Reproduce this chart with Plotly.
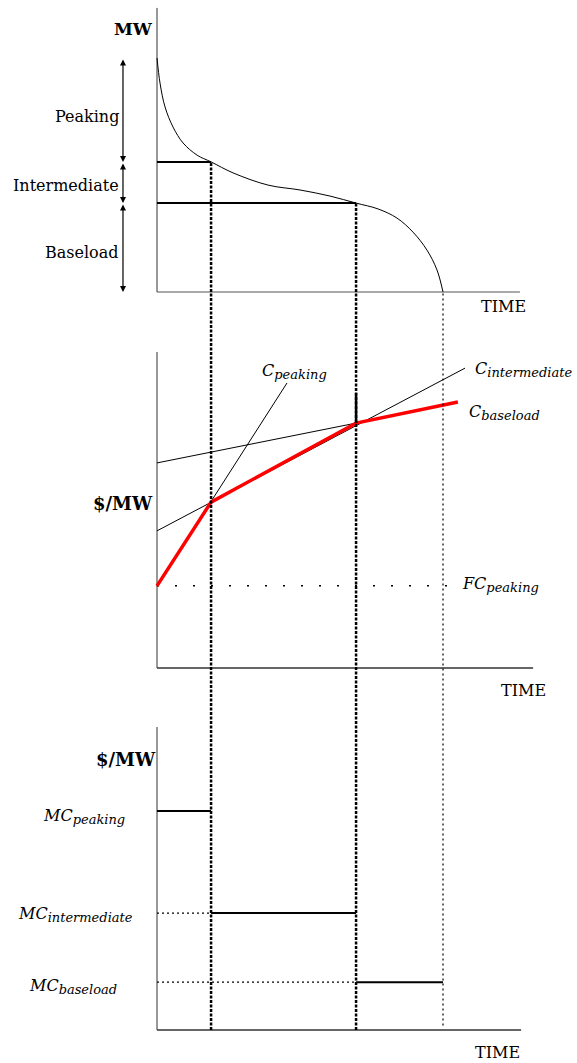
import plotly.graph_objects as go

# ---------------- data ----------------
# load duration curve (time as fraction of period, load in MW units)
ldc_time = [0.0, 0.0105, 0.028, 0.056, 0.091, 0.140, 0.189, 0.266, 0.388, 0.500, 0.605, 0.696, 0.773, 0.839, 0.895, 0.944, 0.979, 1.0]
ldc_load = [100, 89.3, 79.1, 70.5, 63.7, 58.5, 55.6, 50.9, 45.7, 43.6, 41.0, 38.0, 35.5, 31.6, 25.6, 17.9, 9.4, 0]

t_peak = 0.189      # time where peaking ends
t_inter = 0.696     # time where intermediate ends
t_end = 1.0
load_peak_bound = 55.6
load_inter_bound = 38.0
load_max = 100

# screening curves ($/MW)
fc_peaking = 26.0
cpeak_x = [0.0, 0.4545]
cpeak_y = [26.0, 90.2]
cint_x = [0.0, 1.077]
cint_y = [43.4, 94.9]
cbase_x = [0.0, 0.696]
cbase_y = [64.9, 77.5]
env_x = [0.0, 0.189, 0.696, 1.052]
env_y = [26.0, 52.5, 77.5, 84.2]

# marginal costs
mc_peaking = 72.3
mc_inter = 38.6
mc_base = 15.8

# ---------------- layout helpers ----------------
W, H = 577, 1063
XR = [-0.5490, 1.4685]
YR1 = [-329.49, 124.79]   # top panel axis
YR2 = [-125.0, 211.39]    # middle panel axis
YR3 = [-10.89, 339.93]    # bottom panel axis


def paper(v, rng):
    return (v - rng[0]) / (rng[1] - rng[0])


SERIF = "DejaVu Serif, Liberation Serif, serif"
fig = go.Figure()


def line(x, y, yaxis, color="black", width=1, dash="solid", shape="linear"):
    fig.add_trace(go.Scatter(x=x, y=y, yaxis=yaxis, mode="lines",
                             line=dict(color=color, width=width, dash=dash, shape=shape),
                             hoverinfo="skip", showlegend=False))


# --- axes (drawn as lines) ---
line([0, 0], [0, 121.4], "y", color="#333", width=1)
line([0, 1.269], [0, 0], "y", color="#555", width=1)
line([0, 0], [0, 100], "y2", color="#333", width=1)
line([0, 1.315], [0, 0], "y2", color="#333", width=1.5)
line([0, 0], [0, 100], "y3", color="#333", width=1)
line([0, 1.273], [0, 0], "y3", color="#333", width=1.5)

# --- top panel ---
line(ldc_time, ldc_load, "y", width=1, shape="spline")
line([0, t_peak], [load_peak_bound, load_peak_bound], "y", width=2)
line([0, t_inter], [load_inter_bound, load_inter_bound], "y", width=2)

# --- middle panel ---
line([0, 1.04], [fc_peaking, fc_peaking], "y2", width=1.5, dash="2px,16px")
line(cpeak_x, cpeak_y, "y2", width=1)
line(cint_x, cint_y, "y2", width=1)
line(cbase_x, cbase_y, "y2", width=1)
line(env_x, env_y, "y2", color="#ff0000", width=3.5)

# --- bottom panel ---
line([0, t_peak], [mc_inter, mc_inter], "y3", width=1.2, dash="2px,3px")
line([0, t_inter], [mc_base, mc_base], "y3", width=1.2, dash="2px,3px")
line([0, t_peak], [mc_peaking, mc_peaking], "y3", width=2)
line([t_peak, t_inter], [mc_inter, mc_inter], "y3", width=2)
line([t_inter, t_end], [mc_base, mc_base], "y3", width=2)

# --- vertical connecting lines ---
shapes = []
bottom_p = paper(0, YR3)
shapes.append(dict(type="line", xref="x", yref="paper", x0=t_peak, x1=t_peak,
                   y0=bottom_p, y1=paper(load_peak_bound, YR1),
                   line=dict(color="black", width=2.5, dash="3px,1.5px")))
shapes.append(dict(type="line", xref="x", yref="paper", x0=t_inter, x1=t_inter,
                   y0=bottom_p, y1=paper(load_inter_bound, YR1),
                   line=dict(color="black", width=2.5, dash="3px,1.5px")))
shapes.append(dict(type="line", xref="x", yref="paper", x0=t_end, x1=t_end,
                   y0=paper(1.5, YR3), y1=paper(0, YR1),
                   line=dict(color="black", width=1.2, dash="2px,3px")))
# small solid segment at t_inter above the envelope kink
line([t_inter, t_inter], [77.5, 87.0], "y2", width=2.5)

annotations = []


def text(x, y, s, yref="y", xanchor="center", size=16, bold=False):
    if bold:
        s = "<b>" + s + "</b>"
    annotations.append(dict(x=x, y=y, xref="x", yref=yref, text=s, showarrow=False,
                            xanchor=xanchor, yanchor="middle",
                            font=dict(family=SERIF, size=size, color="black")))


def sub(main, s, size=16, subsize=13):
    return ("<i>" + main + "<sub><span style=\"font-size:%dpx\">" % subsize + s +
            "</span></sub></i>")


# double-headed arrows on the left of the top panel
ax_x = -0.119
for lo, hi in [(load_peak_bound, load_max), (load_inter_bound, load_peak_bound), (0, load_inter_bound)]:
    annotations.append(dict(x=ax_x, y=lo, ax=ax_x, ay=hi, xref="x", yref="y", axref="x", ayref="y",
                            text="", showarrow=True, arrowhead=2, arrowside="end+start",
                            arrowsize=1, arrowwidth=1.2, arrowcolor="black",
                            startarrowhead=2, startarrowsize=1))

text(-0.126, 74.8, "Peaking", xanchor="right", size=16)
text(-0.126, 45.7, "Intermediate", xanchor="right", size=16)
text(-0.126, 16.7, "Baseload", xanchor="right", size=16)
text(-0.006, 112.4, "MW", xanchor="right", bold=True, size=17)
text(1.213, -6.4, "TIME", size=16)

text(-0.006, 52.2, "$/MW", yref="y2", xanchor="right", bold=True, size=18)
text(0.360, 93.7, sub("C", "peaking"), yref="y2", xanchor="left", size=16)
text(1.105, 94.6, sub("C", "intermediate"), yref="y2", xanchor="left", size=16)
text(1.084, 81.0, sub("C", "baseload"), yref="y2", xanchor="left", size=16)
text(1.059, 26.3, sub("FC", "peaking"), yref="y2", xanchor="left", size=16)
text(1.283, -7.0, "TIME", yref="y2", size=16)

text(0.004, 89.4, "$/MW", yref="y3", xanchor="right", bold=True, size=18)
text(-0.255, 70.6, sub("MC", "peaking"), yref="y3", size=16)
text(-0.285, 38.0, sub("MC", "intermediate"), yref="y3", size=16)
text(-0.294, 14.2, sub("MC", "baseload"), yref="y3", size=16)
text(1.189, -7.3, "TIME", yref="y3", size=16)

hidden = dict(visible=False, showgrid=False, zeroline=False, fixedrange=True)
fig.update_layout(
    width=W, height=H, autosize=False,
    margin=dict(l=0, r=0, t=0, b=0),
    paper_bgcolor="white", plot_bgcolor="white",
    xaxis=dict(range=XR, domain=[0, 1], **hidden),
    yaxis=dict(range=YR1, domain=[0, 1], **hidden),
    yaxis2=dict(range=YR2, overlaying="y", **hidden),
    yaxis3=dict(range=YR3, overlaying="y", **hidden),
    shapes=shapes, annotations=annotations,
    showlegend=False,
)

fig.write_html("out.html", config={"displayModeBar": False})

# remove the default page margin so the figure fills the window exactly
with open("out.html", "r", encoding="utf-8") as f:
    html = f.read()
html = html.replace("<body>", "<body style=\"margin:0;padding:0;overflow:hidden;\">", 1)
with open("out.html", "w", encoding="utf-8") as f:
    f.write(html)
